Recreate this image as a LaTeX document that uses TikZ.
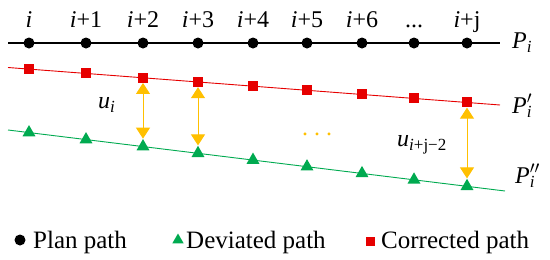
\documentclass[tikz,border=0pt]{standalone}
\usepackage{fontspec}
\setmainfont{Liberation Serif}
\newfontfamily\myserif{Liberation Serif}
\usetikzlibrary{arrows.meta,shapes.geometric}
\definecolor{myred}{RGB}{230,0,0}
\definecolor{mygreen}{RGB}{0,170,80}
\definecolor{myorange}{RGB}{255,192,0}
\newcommand\mysub[1]{\raisebox{-0.45ex}{\fontsize{17}{17}\selectfont #1}}
\newcommand\myprimes[1]{\rlap{\raisebox{0.85ex}{\fontsize{16}{16}\selectfont$#1$}}}
\begin{document}
\begin{tikzpicture}[x=1pt,y=-1pt,
  dotn/.style={circle,fill=black,minimum size=11pt,inner sep=0pt},
  sqn/.style={rectangle,fill=myred,minimum size=10pt,inner sep=0pt},
  trin/.style={regular polygon,regular polygon sides=3,fill=mygreen,minimum size=15pt,inner sep=0pt},
  lbl/.style={font=\myserif\fontsize{24}{28}\selectfont,inner sep=0pt},
  leg/.style={font=\myserif\fontsize{25}{29}\selectfont,inner sep=0pt,anchor=base west},
  uarrow/.style={draw=myorange,line width=1pt,{Triangle[length=11pt,width=14pt]}-{Triangle[length=11pt,width=14pt]}}
]
\useasboundingbox (0,0) rectangle (550,260);
% path lines
\coordinate (ka) at (8,43);   \coordinate (kb) at (500,43);
\coordinate (ra) at (8,67.5); \coordinate (rb) at (500,105);
\coordinate (ga) at (8,130);  \coordinate (gb) at (505,191);
\draw[line width=1.4pt] (ka) -- (kb);
\draw[myred,line width=0.9pt] (ra) -- (rb);
\draw[mygreen,line width=0.9pt] (ga) -- (gb);
% points
\foreach \x [count=\k from 0] in {29,86,143,198,253,307,362,414,467}{
  \pgfmathsetmacro{\yr}{67.5+0.0762*(\x-8)}
  \pgfmathsetmacro{\yg}{130+0.1227*(\x-8)}
  \node[dotn] (p\k) at (\x,43) {};
  \node[sqn] (r\k) at (\x,\yr) {};
  \node[trin] (g\k) at (\x,\yg) {};
}
% top labels
\node[lbl,anchor=base] (t0) at (29,27) {\textit{i}};
\node[lbl,anchor=base] (t1) at (86,27) {\textit{i}+1};
\node[lbl,anchor=base] (t2) at (143,27) {\textit{i}+2};
\node[lbl,anchor=base] (t3) at (198,27) {\textit{i}+3};
\node[lbl,anchor=base] (t4) at (253,27) {\textit{i}+4};
\node[lbl,anchor=base] (t5) at (307,27) {\textit{i}+5};
\node[lbl,anchor=base] (t6) at (362,27) {\textit{i}+6};
\node[lbl,anchor=base] (t7) at (414,27) {...};
\node[lbl,anchor=base] (t8) at (467,27) {\textit{i}+j};
% path labels
\node[lbl,anchor=base west] (lp) at (512,48) {\textit{P}\mysub{\textit{i}}};
\node[lbl,anchor=base west] (lpp) at (512,113) {\textit{P}\myprimes{\prime}\mysub{\textit{i}}};
\node[lbl,anchor=base west] (lppp) at (515,183) {\textit{P}\myprimes{\prime\prime}\mysub{\textit{i}}};
% deviations
\draw[uarrow] (r2.south) -- (g2.north);
\draw[uarrow] (r3.south) -- (g3.north);
\draw[uarrow] (r8.south) -- (g8.north);
\node[lbl,anchor=base west] (u1) at (98,108) {\textit{u}\mysub{\textit{i}}};
\node[lbl,anchor=base west] (u2) at (397,146) {\textit{u}\mysub{\textit{i}+j−2}};
\node[lbl,anchor=base,text=myorange] (dd) at (317,135) {.\hspace{6pt}.\hspace{6pt}.};
% legend
\node[dotn] (l1) at (20,240) {};
\node[leg] (l1t) at (33,248) {Plan path};
\node[trin,minimum size=13pt] (l2) at (178,240) {};
\node[leg] (l2t) at (186,248) {Deviated path};
\node[sqn,minimum size=9pt] (l3) at (370,241) {};
\node[leg] (l3t) at (381,248) {Corrected path};
\end{tikzpicture}
\end{document}
